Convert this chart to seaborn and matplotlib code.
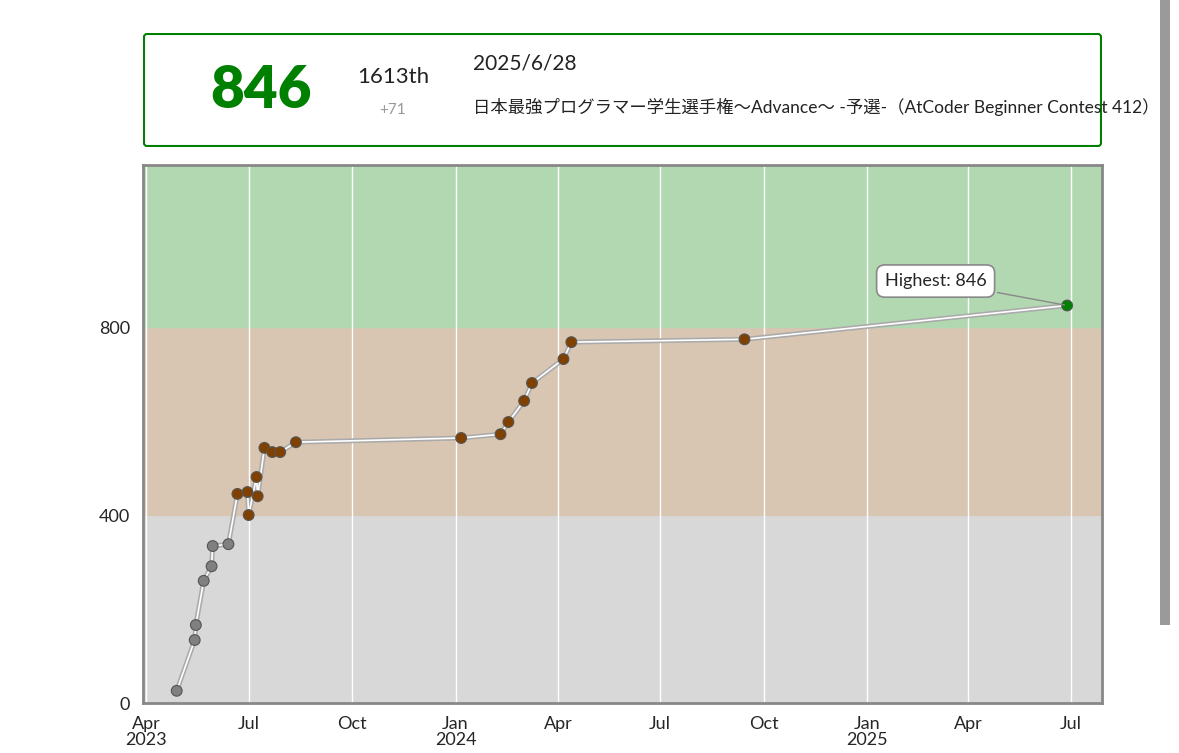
import matplotlib
matplotlib.use("Agg")
import matplotlib.pyplot as plt
import seaborn as sns
import pandas as pd
from matplotlib.patches import FancyBboxPatch

dates = ["2023-04-28","2023-05-14","2023-05-15","2023-05-22","2023-05-29","2023-05-30",
         "2023-06-13","2023-06-21","2023-06-30","2023-07-01","2023-07-08","2023-07-09",
         "2023-07-15","2023-07-22","2023-07-29","2023-08-12","2024-01-06","2024-02-10",
         "2024-02-17","2024-03-02","2024-03-09","2024-04-06","2024-04-13","2024-09-14",
         "2025-06-28"]
ratings = [26,134,166,260,291,334,338,445,449,400,481,440,543,534,534,555,564,572,
           598,643,681,732,768,774,846]

df = pd.DataFrame({"date": pd.to_datetime(dates), "rating": ratings})

def color_for(r):
    if r < 400: return "#808080"
    if r < 800: return "#804000"
    return "#008000"

sns.set_theme(style="white")
plt.rcParams['font.family'] = ['Lato', 'Noto Sans CJK JP', 'DejaVu Sans']

fig = plt.figure(figsize=(11.79, 7.53), dpi=100)
ax = fig.add_axes([143/1179, 1-703/753, (1102-143)/1179, (703-165)/753])

ymax = 1145
ax.axhspan(0, 400, color="#D8D8D8", zorder=0)
ax.axhspan(400, 800, color="#D8C5B2", zorder=0)
ax.axhspan(800, ymax, color="#B2D8B2", zorder=0)

sns.lineplot(data=df, x="date", y="rating", ax=ax, color="#aaaaaa", linewidth=3.5, zorder=2)
sns.lineplot(data=df, x="date", y="rating", ax=ax, color="#ffffff", linewidth=1.2, zorder=2)
ax.scatter(df["date"], df["rating"], c=[color_for(r) for r in ratings], s=60,
           edgecolors="#555555", linewidths=0.8, zorder=3)

ax.set_xlim(pd.Timestamp("2023-03-29"), pd.Timestamp("2025-07-29"))
ax.set_ylim(0, ymax)
ax.set_yticks([0, 400, 800])
ticks = pd.to_datetime(["2023-04-01","2023-07-01","2023-10-01","2024-01-01","2024-04-01",
                        "2024-07-01","2024-10-01","2025-01-01","2025-04-01","2025-07-01"])
labels = ["Apr\n2023","Jul","Oct","Jan\n2024","Apr","Jul","Oct","Jan\n2025","Apr","Jul"]
ax.set_xticks(ticks)
ax.set_xticklabels(labels, fontsize=13, linespacing=1.0, va="top")
ax.tick_params(axis="y", labelsize=13)
for t in ticks:
    ax.axvline(t, color="white", linewidth=1, zorder=1)
ax.set_xlabel(""); ax.set_ylabel("")
for s in ax.spines.values():
    s.set_color("#888888"); s.set_linewidth(2)

ax.annotate("Highest: 846", xy=(pd.Timestamp("2025-06-28"), 846),
            xytext=(pd.Timestamp("2025-03-03"), 898), fontsize=13, ha="center", va="center",
            bbox=dict(boxstyle="round,pad=0.45", fc="white", ec="#888888", lw=1.2),
            arrowprops=dict(arrowstyle="-", color="#888888", lw=1), zorder=4)

hax = fig.add_axes([143/1179, 1-147/753, (1102-143)/1179, (147-33)/753])
hax.set_xlim(0, 959); hax.set_ylim(0, 114); hax.axis("off")
hax.add_patch(FancyBboxPatch((1, 1), 957, 112, boxstyle="round,pad=0,rounding_size=3",
                             fc="white", ec="#008000", lw=1.5))
hax.text(118, 57, "846", fontsize=42, fontweight="heavy", color="#008000",
         ha="center", va="center", fontstretch="condensed")
hax.text(250, 70, "1613th", fontsize=16, ha="center", va="center", color="#222222")
hax.text(250, 37, "+71", fontsize=11, ha="center", va="center", color="#999999")
hax.text(330, 84, "2025/6/28", fontsize=15, ha="left", va="center", color="#222222")
hax.text(330, 40, "日本最強プログラマー学生選手権～Advance～ -予選-（AtCoder Beginner Contest 412）",
         fontsize=12.5, ha="left", va="center", color="#222222")

fig.patches.append(plt.Rectangle((1160/1179, 1-625/753), 10/1179, 625/753,
                                 transform=fig.transFigure, fc="#9a9a9a", ec="none"))

fig.savefig("out.png", dpi=100)
